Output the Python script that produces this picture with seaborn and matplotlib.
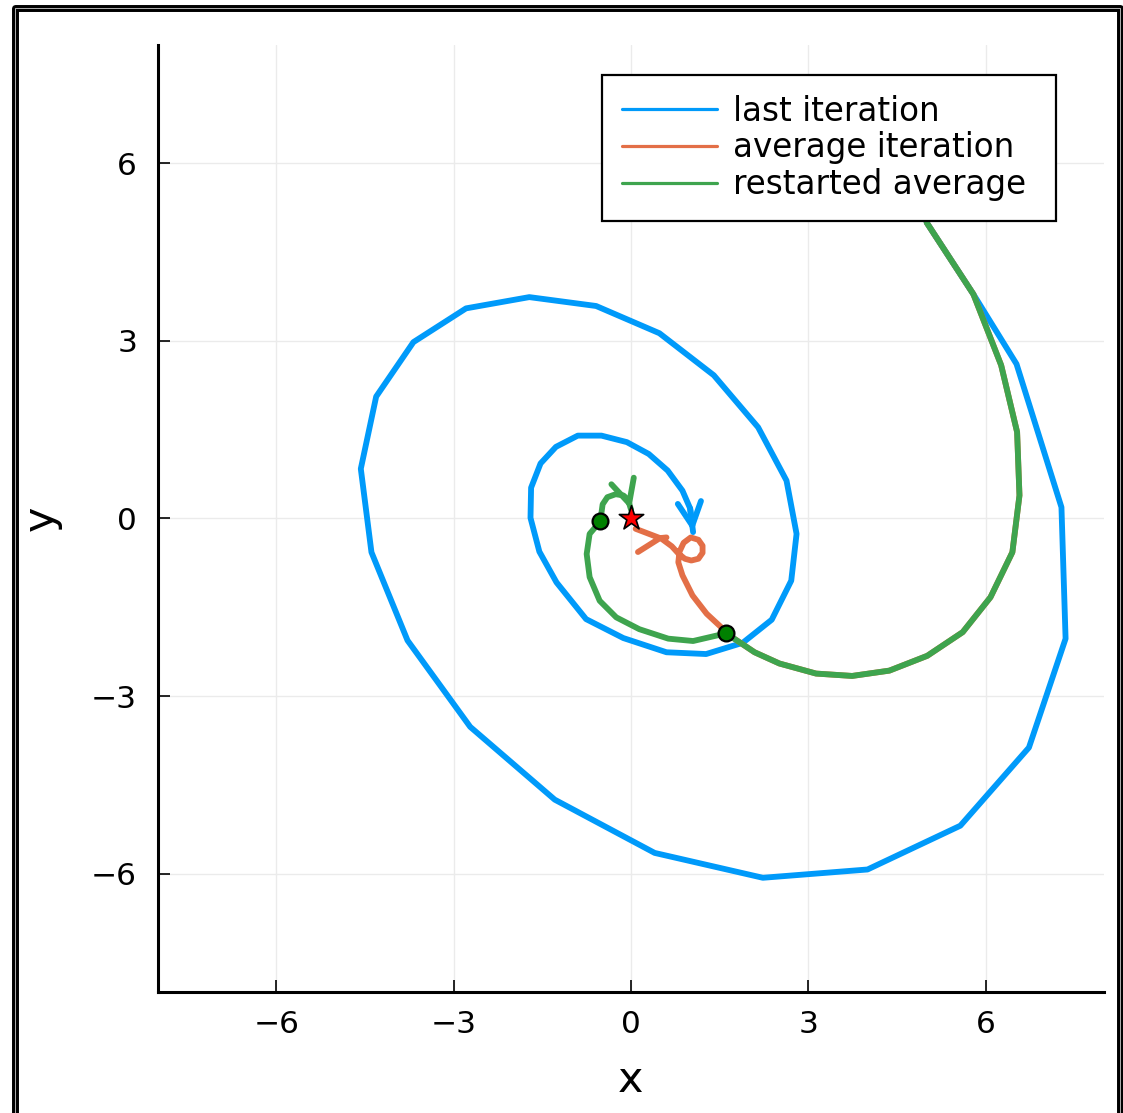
import matplotlib
matplotlib.use("Agg")
import matplotlib.pyplot as plt
from matplotlib.lines import Line2D
import seaborn as sns

# last iteration (spiral of the plain iterates)
last_x = [5.00, 5.79, 6.52, 7.28, 7.35, 6.73, 5.57, 4.00, 2.23, 0.40,
          -1.29, -2.72, -3.78, -4.39, -4.57, -4.31, -3.68, -2.79, -1.72, -0.59,
          0.48, 1.40, 2.15, 2.63, 2.80, 2.71, 2.38, 1.89, 1.27, 0.60,
          -0.13, -0.76, -1.26, -1.55, -1.70, -1.69, -1.53, -1.27, -0.90, -0.50,
          -0.07, 0.30, 0.62, 0.87, 1.00, 1.05]
last_y = [5.00, 3.79, 2.61, 0.19, -2.03, -3.87, -5.19, -5.93, -6.07, -5.65,
          -4.75, -3.52, -2.06, -0.57, 0.84, 2.06, 2.98, 3.55, 3.74, 3.59,
          3.13, 2.42, 1.54, 0.64, -0.26, -1.05, -1.71, -2.10, -2.29, -2.26,
          -2.02, -1.70, -1.08, -0.56, 0.01, 0.52, 0.93, 1.21, 1.40, 1.40,
          1.29, 1.09, 0.81, 0.47, 0.17, -0.23]

# average iteration (same as restarted average until the first restart)
avg_x = [5.00, 5.79, 6.26, 6.53, 6.57, 6.45, 6.08, 5.61, 5.01, 4.37,
         3.74, 3.13, 2.51, 2.09, 1.61, 1.55, 1.28, 1.04, 0.87, 0.80,
         0.82, 0.89, 1.01, 1.14, 1.21, 1.21, 1.14, 1.02, 0.91, 0.80,
         0.69, 0.50, 0.60]
avg_y = [5.00, 3.79, 2.59, 1.46, 0.39, -0.57, -1.33, -1.92, -2.32, -2.57,
         -2.66, -2.62, -2.45, -2.26, -1.94, -1.86, -1.61, -1.30, -0.96, -0.74,
         -0.56, -0.41, -0.32, -0.36, -0.46, -0.58, -0.68, -0.71, -0.68, -0.59,
         -0.47, -0.33, -0.32]

# restarted average
rest_x = [5.00, 5.79, 6.26, 6.53, 6.57, 6.45, 6.08, 5.61, 5.01, 4.37,
          3.74, 3.13, 2.51, 2.09, 1.61, 1.05, 0.63, 0.14, -0.25, -0.53,
          -0.70, -0.75, -0.70, -0.52, -0.48, -0.40, -0.26, -0.13, -0.05, 0.00]
rest_y = [5.00, 3.79, 2.59, 1.46, 0.39, -0.57, -1.33, -1.92, -2.32, -2.57,
          -2.66, -2.62, -2.45, -2.26, -1.94, -2.07, -2.03, -1.87, -1.67, -1.39,
          -0.99, -0.60, -0.26, -0.05, 0.24, 0.36, 0.41, 0.39, 0.32, 0.15]

# restart points and the solution
restart_pts_x = [1.61, -0.52]
restart_pts_y = [-1.94, -0.05]
sol_x = [0.0]
sol_y = [0.0]

ticks = [-6, -3, 0, 3, 6]
labels = ["last iteration", "average iteration", "restarted average "]
colors = ["#009AFA", "#E36F47", "#3EA44E"]

sns.set_style("white")
plt.rcParams["font.family"] = ["DejaVu Sans", "sans-serif"]
plt.rcParams["text.color"] = "black"
plt.rcParams["axes.labelcolor"] = "black"
plt.rcParams["xtick.color"] = "black"
plt.rcParams["ytick.color"] = "black"

fig = plt.figure(figsize=(11.23, 11.13), dpi=100)
ax = fig.add_axes([0.1407, 0.1087, 0.8424, 0.8509])

lw = 4.2
paths = [(last_x, last_y), (avg_x, avg_y), (rest_x, rest_y)]
for i, (px, py) in enumerate(paths):
    sns.lineplot(x=px, y=py, sort=False, estimator=None, color=colors[i],
                 lw=lw, label=labels[i], ax=ax, zorder=2 + i)
    # arrow head at the end of each path
    ax.annotate("", xy=(px[-1], py[-1]), xytext=(px[-2], py[-2]),
                arrowprops=dict(arrowstyle="->,head_length=0.4,head_width=0.2",
                                color=colors[i], lw=lw, shrinkA=0, shrinkB=0,
                                mutation_scale=42),
                zorder=2 + i)

sns.scatterplot(x=restart_pts_x, y=restart_pts_y, s=130, color="#008000",
                edgecolor="black", linewidth=1.6, ax=ax, zorder=6)
sns.scatterplot(x=sol_x, y=sol_y, marker="*", s=340, color="#FF0000",
                edgecolor="black", linewidth=1.2, ax=ax, zorder=7)

ax.set_xlim(-8, 8)
ax.set_ylim(-8, 8)
ax.set_xticks(ticks)
ax.set_yticks(ticks)
ax.grid(True, color="#ebebeb", lw=1.0)
ax.set_axisbelow(True)
for s in ["top", "right"]:
    ax.spines[s].set_visible(False)
for s in ["left", "bottom"]:
    ax.spines[s].set_color("black")
    ax.spines[s].set_linewidth(2.2)
ax.tick_params(direction="in", length=8.5, width=1.2, labelsize=22.5,
               bottom=True, left=True)
ax.tick_params(axis="x", pad=13)
ax.tick_params(axis="y", pad=15)
ax.set_xlabel("x", fontsize=31, labelpad=14)
ax.set_ylabel("y", fontsize=31, labelpad=21)

leg = ax.legend(loc="upper right", bbox_to_anchor=(0.9493, 0.9683), borderaxespad=0,
                fontsize=23.5, frameon=True, fancybox=False, edgecolor="black",
                framealpha=1, handlelength=2.9, handletextpad=0.5,
                labelspacing=0.12, borderpad=0.6)
leg.get_frame().set_linewidth(1.6)
for line in leg.get_lines():
    line.set_linewidth(2.3)

# frame drawn around the whole picture
bx = [0.0138, 0.0138, 0.9969, 0.9969]
by = [0.0, 0.9924, 0.9924, 0.0]
fig.add_artist(Line2D(bx, by, transform=fig.transFigure, color="black", lw=5.0))
fig.add_artist(Line2D(bx, by, transform=fig.transFigure, color="#b0b0b0", lw=0.7))

fig.savefig("out.png", dpi=100)
